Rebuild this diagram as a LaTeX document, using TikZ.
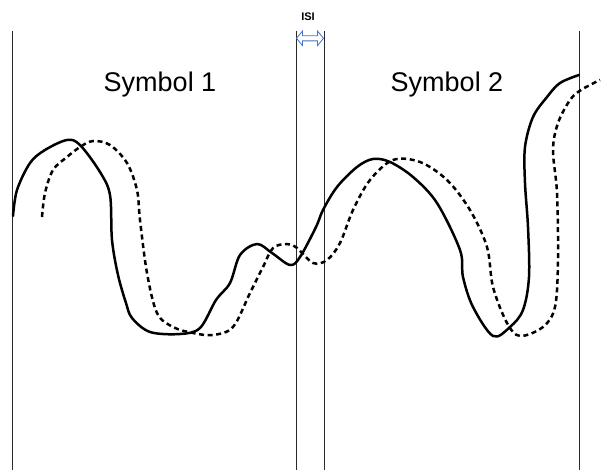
\documentclass[tikz,border=0pt]{standalone}
\usepackage{fontspec}
\setmainfont{Liberation Sans}
\definecolor{isiblue}{RGB}{68,114,196}
\definecolor{rule}{RGB}{40,40,40}
\begin{document}
\begin{tikzpicture}[x=1pt,y=-1pt,
  boundary/.style={draw=rule,line width=0.9pt},
  signal/.style={draw=black,line width=2.5pt,line cap=round,line join=round},
  delayed/.style={signal,dash pattern=on 5pt off 3.6pt,line cap=butt},
  symlabel/.style={font=\fontsize{27}{30}\selectfont,anchor=base,inner sep=0pt},
  isilabel/.style={font=\fontsize{11}{12}\selectfont\bfseries,anchor=base,inner sep=0pt},
  isiarrow/.style={draw=isiblue,fill=white,line width=0.8pt,line join=miter}]
\useasboundingbox (0,0) rectangle (603,470);

% symbol boundaries
\coordinate (b1t) at (12,31);  \coordinate (b1b) at (12,470);
\coordinate (b2t) at (296,31); \coordinate (b2b) at (296,470);
\coordinate (b3t) at (324,31); \coordinate (b3b) at (324,470);
\coordinate (b4t) at (579,31); \coordinate (b4b) at (579,470);
\draw[boundary] (b1t) -- (b1b);
\draw[boundary] (b2t) -- (b2b);
\draw[boundary] (b3t) -- (b3b);
\draw[boundary] (b4t) -- (b4b);

% labels
\node[symlabel] (s1) at (160,92) {Symbol 1};
\node[symlabel] (s2) at (447,92) {Symbol 2};
\node[isilabel] (isi) at (308,21) {ISI};

% guard interval arrow
\draw[isiarrow] (296.5,38.3) -- (302.5,31) -- (302.5,35.7) -- (317.5,35.7) -- (317.5,31)
  -- (323.5,38.3) -- (317.5,45.6) -- (317.5,40.9) -- (302.5,40.9) -- (302.5,45.6) -- cycle;

% transmitted waveform
\draw[signal] plot[smooth,tension=0.55] coordinates {
  (13,216) (17,190) (30,163) (45,150) (67,140) (80,145) (100,172) (110,195)
  (112,240) (118,275) (126,303) (132,318) (150,332) (180,334) (200,328)
  (216,300) (230,283) (240,255) (257,244) (272,253) (290,265) (300,257)
  (316,227) (323,210) (337,187) (357,167) (373,159) (390,162) (413,177)
  (437,203) (460,250) (463,277) (473,307) (493,336) (510,327) (523,310)
  (529,277) (528,227) (525,183) (525,147) (533,117) (547,97) (560,83) (579,75)};

% delayed echo
\draw[delayed] plot[smooth,tension=0.55] coordinates {
  (42,217) (45,193) (53,170) (67,157) (80,147) (93,141) (110,145) (127,163)
  (137,190) (140,220) (147,273) (157,313) (173,327) (193,333) (213,335)
  (233,327) (250,293) (263,267) (273,248) (287,244) (297,248) (313,263)
  (327,260) (340,243) (353,210) (370,180) (393,160) (420,162) (447,180)
  (470,210) (487,247) (493,287) (507,323) (520,336) (543,327) (555,307)
  (558,260) (557,193) (553,150) (558,123) (570,100) (581,90) (600,80)};
\end{tikzpicture}
\end{document}
